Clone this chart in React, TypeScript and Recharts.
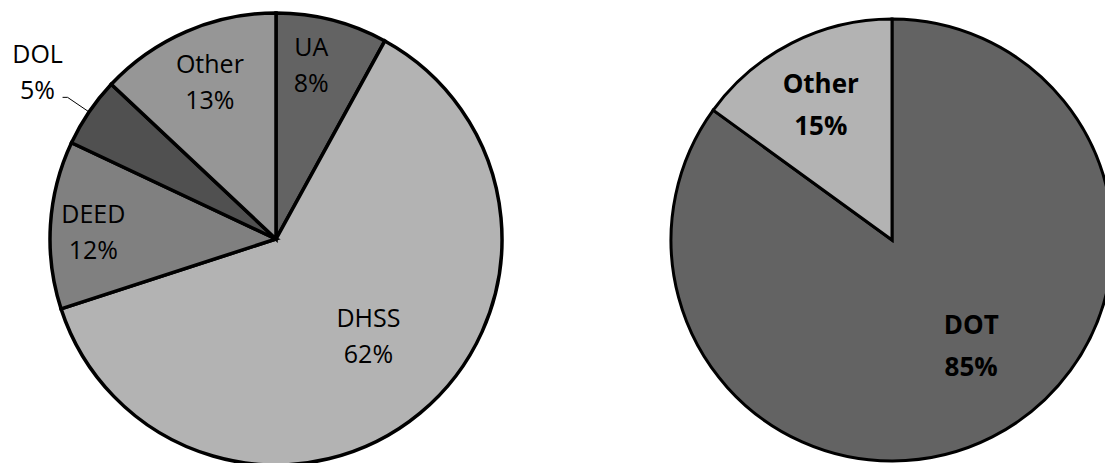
import React from 'react';
import { PieChart, Pie, Cell } from 'recharts';

// Agency shares, first chart
const leftNames = ['UA', 'DHSS', 'DEED', 'DOL', 'Other'];
const leftValues = [8, 62, 12, 5, 13];
const leftColors = ['#636363', '#b3b3b3', '#808080', '#505050', '#969696'];

// Agency shares, second chart
const rightNames = ['DOT', 'Other'];
const rightValues = [85, 15];
const rightColors = ['#636363', '#b3b3b3'];

const leftData = leftNames.map((name, i) => ({ name, value: leftValues[i] }));
const rightData = rightNames.map((name, i) => ({ name, value: rightValues[i] }));

const RADIAN = Math.PI / 180;
const FONT = '"Open Sans", "Liberation Sans", sans-serif';

// small nudges for label placement, per pie and slice name
const leftNudge: Record<string, [number, number]> = {
  UA: [-8, -6],
  DHSS: [6, -8],
  DEED: [-9, 3],
  Other: [3, 2],
};
const rightNudge: Record<string, [number, number]> = {
  DOT: [19, -13],
  Other: [-1, 2],
};

function makeLabel(bold: boolean, fontSize: number, gap: number, nudge: Record<string, [number, number]>, smallFactor: number) {
  return (props: any) => {
    const { cx, cy, midAngle, outerRadius, percent, name, value } = props;
    const cos = Math.cos(-midAngle * RADIAN);
    const sin = Math.sin(-midAngle * RADIAN);
    const textProps = {
      textAnchor: 'middle' as const,
      dominantBaseline: 'central' as const,
      fontFamily: FONT,
      fontSize,
      fontWeight: bold ? 700 : 400,
      fill: '#000',
    };
    if (percent < 0.06) {
      // small slice: label sits outside with a leader line
      const sx = cx + outerRadius * cos;
      const sy = cy + outerRadius * sin;
      const mx = cx + (outerRadius + 26) * cos;
      const my = cy + (outerRadius + 26) * sin;
      const ex = mx - 5;
      const tx = ex - 25;
      return (
        <g>
          <polyline
            points={`${sx},${sy} ${mx},${my} ${ex},${my}`}
            fill="none"
            stroke="#000"
            strokeWidth={1}
          />
          <text x={tx} y={my - 44} {...textProps}>
            {name}
          </text>
          <text x={tx} y={my - 8} {...textProps}>
            {`${value}%`}
          </text>
        </g>
      );
    }
    const factor = percent > 0.5 ? 0.6 : smallFactor;
    const [nx, ny] = nudge[name] || [0, 0];
    const x = cx + outerRadius * factor * cos + nx;
    const y = cy + outerRadius * factor * sin + ny;
    return (
      <g>
        <text x={x} y={y - gap / 2} {...textProps}>
          {name}
        </text>
        <text x={x} y={y + gap / 2} {...textProps}>
          {`${value}%`}
        </text>
      </g>
    );
  };
}

export default function App() {
  return (
    <div style={{ position: 'absolute', left: 0, top: 0, background: '#fff' }}>
      <PieChart width={1105} height={463} margin={{ top: 0, right: 0, bottom: 0, left: 0 }}>
        <Pie
          data={leftData}
          dataKey="value"
          nameKey="name"
          cx={276}
          cy={239}
          outerRadius={226}
          startAngle={90}
          endAngle={-270}
          stroke="#000"
          strokeWidth={3.5}
          label={makeLabel(false, 25, 36, leftNudge, 0.77)}
          labelLine={false}
          isAnimationActive={false}
        >
          {leftData.map((d, i) => (
            <Cell key={d.name} fill={leftColors[i]} stroke="#000" strokeWidth={3.5} />
          ))}
        </Pie>
        <Pie
          data={rightData}
          dataKey="value"
          nameKey="name"
          cx={892}
          cy={240}
          outerRadius={221}
          startAngle={90}
          endAngle={-270}
          stroke="#000"
          strokeWidth={3}
          label={makeLabel(true, 26, 42, rightNudge, 0.7)}
          labelLine={false}
          isAnimationActive={false}
        >
          {rightData.map((d, i) => (
            <Cell key={d.name} fill={rightColors[i]} stroke="#000" strokeWidth={3} />
          ))}
        </Pie>
      </PieChart>
    </div>
  );
}
